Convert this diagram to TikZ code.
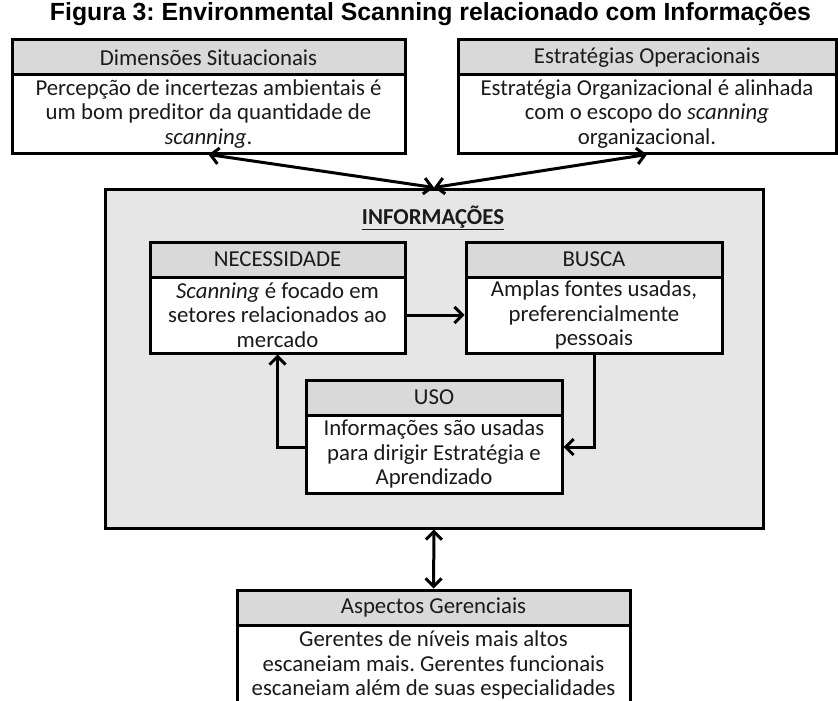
\documentclass[tikz,border=0pt]{standalone}
\usepackage{graphicx}
\usepackage{fontspec}
\setmainfont{Carlito}
\newfontfamily\titlefont{Liberation Sans}
\usetikzlibrary{arrows.meta}
\frenchspacing
\definecolor{hdrgray}{HTML}{D9D9D9}
\definecolor{panelgray}{HTML}{E6E6E6}
\definecolor{ink}{HTML}{1A1A1A}
\tikzset{
  box/.style={draw=black, line width=3pt, inner sep=0pt, text=ink,
    font=\fontsize{22.8}{24.5}\selectfont, align=center},
  hdr/.style={box, fill=hdrgray, minimum height=35pt},
  body/.style={box, fill=white},
  tip/.tip={Straight Barb[length=8pt,width=16pt,line width=3pt]},
  conn/.style={line width=3pt, -tip},
  dconn/.style={line width=3pt, tip-tip},
}
\begin{document}
\begin{tikzpicture}[x=1pt,y=-1pt]
\useasboundingbox[fill=white] (0,0) rectangle (838,701);

% title, set to the full width of the figure row
\node[inner sep=0pt] (title) at (430.5,14)
  {\resizebox{761pt}{!}{\titlefont\bfseries\fontsize{24.8}{28}\selectfont
   Figura 3: Environmental Scanning relacionado com Informações}};

% outer panel
\node[draw=black, line width=3pt, fill=panelgray, minimum width=658pt,
  minimum height=339pt] (info) at (434,358.5) {};
\node[font=\fontsize{22.8}{24.5}\selectfont\bfseries, text=ink] (infoT) at (433,218)
  {\underline{INFORMAÇÕES}};

% top boxes
\node[hdr, minimum width=393pt] (dimH) at (208.5,57.5) {Dimensões Situacionais};
\node[body, minimum width=393pt, minimum height=78pt] (dimB) at (208.5,114)
  {Percepção de incertezas ambientais é\\um bom preditor da quantidade de\\\textit{scanning}.};

\node[hdr, minimum width=378pt] (estH) at (647,57.5) {Estratégias Operacionais};
\node[body, minimum width=378pt, minimum height=78pt] (estB) at (647,114)
  {Estratégia Organizacional é alinhada\\com o escopo do \textit{scanning}\\organizacional.};

% inner boxes
\node[hdr, minimum width=255pt] (necH) at (277.5,259.5) {NECESSIDADE};
\node[body, minimum width=255pt, minimum height=76pt] (necB) at (277.5,315)
  {\textit{Scanning} é focado em\\setores relacionados ao\\mercado};

\node[hdr, minimum width=256pt] (busH) at (594,259.5) {BUSCA};
\node[body, minimum width=256pt, minimum height=76pt] (busB) at (594,315)
  {Amplas fontes usadas,\\preferencialmente\\pessoais};

\node[hdr, minimum width=256pt] (usoH) at (434,397.5) {USO};
\node[body, minimum width=256pt, minimum height=78pt] (usoB) at (434,454)
  {Informações são usadas\\para dirigir Estratégia e\\Aprendizado};

% bottom box
\node[hdr, minimum width=393pt] (aspH) at (433.5,607.5) {Aspectos Gerenciais};
\node[body, minimum width=393pt, minimum height=80pt] (aspB) at (433.5,665)
  {Gerentes de níveis mais altos\\escaneiam mais. Gerentes funcionais\\escaneiam além de suas especialidades};

% connectors
\draw[dconn] (dimB.south) -- (info.north);
\draw[dconn] (estB.south) -- (info.north);
\draw[conn] (necB.east) -- (busB.west);
\draw[conn] (busB.south) |- ([yshift=7pt]usoB.east);
\draw[conn] ([yshift=7pt]usoB.west) -| (necB.south);
\draw[dconn] (info.south) -- (aspH.north);
\end{tikzpicture}
\end{document}
